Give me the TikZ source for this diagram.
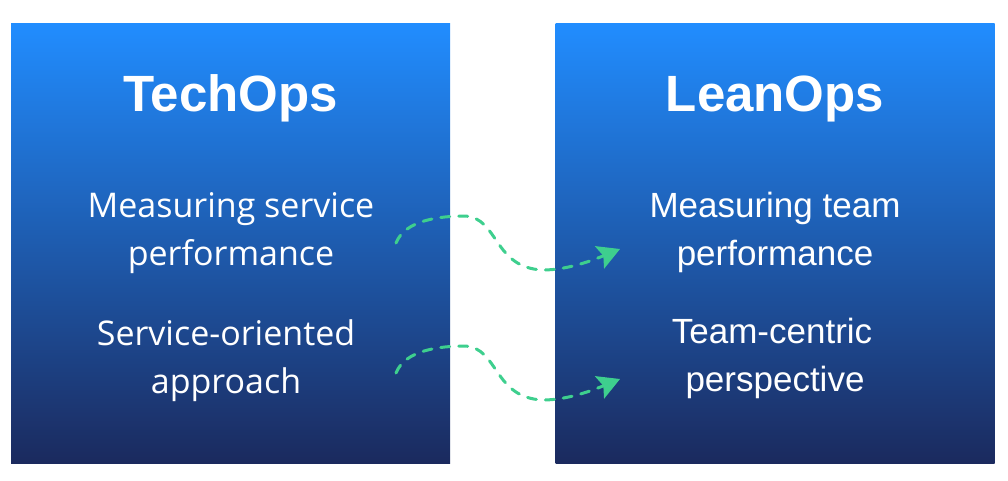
\documentclass[tikz,border=0pt]{standalone}
\usepackage{fontspec}
\usetikzlibrary{arrows.meta,calc}
\newfontfamily\headfont{Liberation Sans}
\newfontfamily\leftfont{Open Sans}
\newfontfamily\rightfont{Liberation Sans}
\definecolor{topblue}{HTML}{218DFF}
\definecolor{botblue}{HTML}{1B2A5E}
\definecolor{arrowgreen}{HTML}{3ECF8E}
\begin{document}
\begin{tikzpicture}[x=1pt,y=-1pt,
  panel/.style={top color=topblue, bottom color=botblue, draw=none, inner sep=0pt,
    minimum width=439pt, minimum height=440pt},
  title/.style={text=white, anchor=base, inner sep=0pt, font=\headfont\bfseries\fontsize{51}{60}\selectfont},
  ltext/.style={text=white, anchor=base, inner sep=0pt, font=\leftfont\fontsize{34}{40}\selectfont},
  rtext/.style={text=white, anchor=base, inner sep=0pt, font=\rightfont\fontsize{35}{40}\selectfont},
  flow/.style={draw=arrowgreen, line width=3pt, line cap=round, dash pattern=on 9pt off 9pt,
    -{Stealth[length=22pt,width=24pt,inset=4pt]}}]
\useasboundingbox (0,0) rectangle (1008,480);
\node[panel] (left) at (230.5,243) {};
\node[panel] (right) at (775,243) {};
\node[title] (t1) at (230.5,111) {TechOps};
\node[title] (t2) at (775,111) {LeanOps};
\node[ltext] (l1) at (231,217) {Measuring service};
\node[ltext] (l2) at (231,265) {performance};
\node[ltext] (l3) at (226,345) {Service-oriented};
\node[ltext] (l4) at (226,393) {approach};
\node[rtext] (r1) at (775,217) {Measuring team};
\node[rtext] (r2) at (775,265) {performance};
\node[rtext] (r3) at (772,343) {Team-centric};
\node[rtext] (r4) at (775,391) {perspective};
\coordinate (s1) at (396,243);
\coordinate (e1) at (620,249);
\coordinate (s2) at (396,373);
\coordinate (e2) at (620,379);
\foreach \s/\e in {s1/e1,s2/e2}{
  \draw[flow] (\s) .. controls +(9,-23) and +(-25,0) .. ($(\s)+(69,-27)$)
    .. controls +(34,2) and +(-50,-2) .. ($(\s)+(147,27)$)
    .. controls +(27,0) and +(-22,9) .. (\e);
}
\end{tikzpicture}
\end{document}
